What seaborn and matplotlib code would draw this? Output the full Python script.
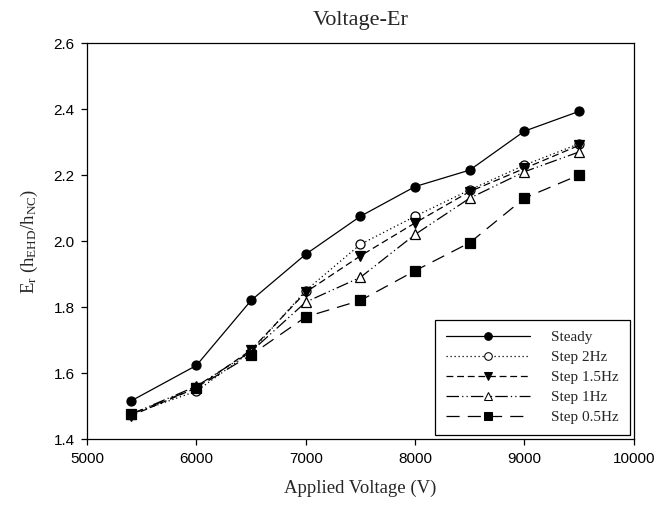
import matplotlib
matplotlib.use("Agg")
import matplotlib.pyplot as plt
import seaborn as sns
import pandas as pd

voltage = [5400, 6000, 6500, 7000, 7500, 8000, 8500, 9000, 9500]
steady = [1.515, 1.623, 1.820, 1.960, 2.075, 2.165, 2.215, 2.333, 2.393]
step_2hz = [1.475, 1.545, 1.665, 1.850, 1.990, 2.075, 2.155, 2.230, 2.295]
step_15hz = [1.470, 1.555, 1.670, 1.845, 1.955, 2.055, 2.150, 2.220, 2.290]
step_1hz = [1.475, 1.560, 1.665, 1.815, 1.890, 2.020, 2.130, 2.210, 2.270]
step_05hz = [1.475, 1.555, 1.655, 1.770, 1.820, 1.910, 1.995, 2.130, 2.200]
series_names = ["Steady", "Step 2Hz", "Step 1.5Hz", "Step 1Hz", "Step 0.5Hz"]
x_ticks = [5000, 6000, 7000, 8000, 9000, 10000]
y_ticks = [1.4, 1.6, 1.8, 2.0, 2.2, 2.4, 2.6]
y_tick_labels = ["1.4", "1.6", "1.8", "2.0", "2.2", "2.4", "2.6"]

sns.set_style("ticks")
plt.rcParams["font.family"] = ["Liberation Serif", "DejaVu Serif"]
plt.rcParams["mathtext.fontset"] = "custom"
plt.rcParams["mathtext.rm"] = "Liberation Serif"
plt.rcParams["mathtext.it"] = "Liberation Serif:italic"

rows = []
for name, vals in zip(series_names, [steady, step_2hz, step_15hz, step_1hz, step_05hz]):
    for v, e in zip(voltage, vals):
        rows.append({"Voltage": v, "Er": e, "Series": name})
df = pd.DataFrame(rows)

fig = plt.figure(figsize=(6.7, 5.09), dpi=100)
ax = fig.add_axes([0.13, 0.1375, 0.816, 0.778])

markers = {"Steady": "o", "Step 2Hz": "o", "Step 1.5Hz": "v", "Step 1Hz": "^", "Step 0.5Hz": "s"}
dashes = {"Steady": "", "Step 2Hz": (1, 2.2), "Step 1.5Hz": (5.5, 3),
          "Step 1Hz": (10, 2.5, 1, 2.5, 1, 2.5), "Step 0.5Hz": (10.5, 6.5)}
open_series = ("Step 2Hz", "Step 1Hz")

sns.lineplot(data=df, x="Voltage", y="Er", hue="Series", style="Series",
             hue_order=series_names, style_order=series_names,
             palette=["black"] * 5, markers=markers, dashes=dashes,
             markersize=6.5, linewidth=0.9, ax=ax, legend=True)

lines = ax.get_lines()
for ln, name in zip(lines, series_names):
    ln.set_markeredgecolor("black")
    ln.set_markeredgewidth(0.9)
    ln.set_markerfacecolor("white" if name in open_series else "black")

ax.set_xlim(5000, 10000)
ax.set_ylim(1.4, 2.6)
ax.set_xticks(x_ticks)
ax.set_yticks(y_ticks)
ax.set_yticklabels(y_tick_labels)
for lab in ax.get_xticklabels() + ax.get_yticklabels():
    lab.set_fontfamily("Liberation Sans")
    lab.set_fontsize(11)
ax.tick_params(direction="out", length=4, width=0.9, colors="black", pad=5)
for s in ax.spines.values():
    s.set_color("black")
    s.set_linewidth(0.9)

ax.set_title("Voltage-Er", fontsize=16, pad=13)
ax.set_xlabel("Applied Voltage (V)", fontsize=13.5, labelpad=10)
ax.set_ylabel(r"E$_\mathrm{r}$ (h$_\mathrm{EHD}$/h$_\mathrm{NC}$)", fontsize=13.5, labelpad=10)

handles, labels = ax.get_legend_handles_labels()
for h, name in zip(handles, labels):
    h.set_markeredgecolor("black")
    h.set_color("black")
    h.set_markersize(5.5)
    h.set_markerfacecolor("white" if name in open_series else "black")
leg = ax.legend(handles, labels, loc="lower right", handlelength=5.5, fontsize=11,
                frameon=True, fancybox=False, edgecolor="black", framealpha=1,
                borderaxespad=0.25, labelspacing=0.41, handletextpad=1.37,
                borderpad=0.72)
leg.get_frame().set_linewidth(0.9)

fig.savefig("out.png", dpi=100)
